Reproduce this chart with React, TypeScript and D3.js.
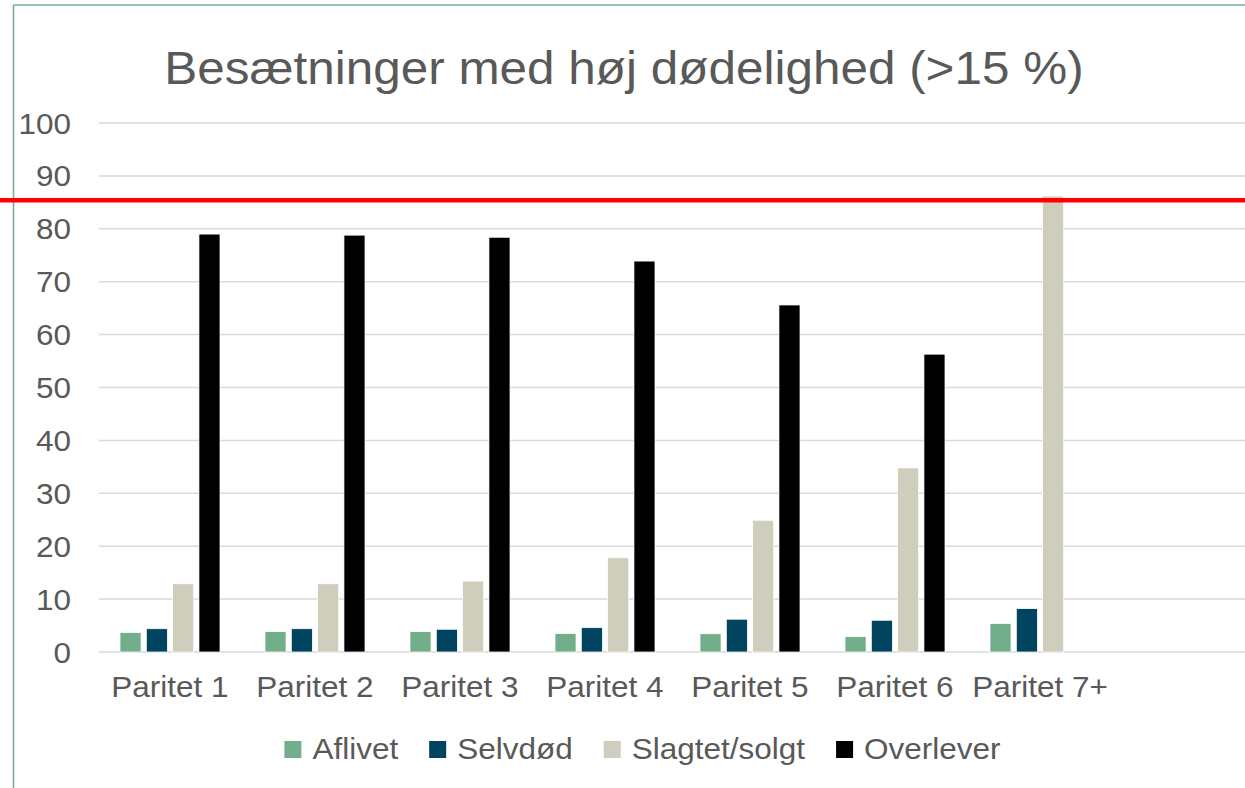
import React from "react";
import * as d3 from "d3";

const categories = ["Paritet 1", "Paritet 2", "Paritet 3", "Paritet 4", "Paritet 5", "Paritet 6", "Paritet 7+"];
const seriesNames = ["Aflivet", "Selvdød", "Slagtet/solgt", "Overlever"];
const aflivet = [3.7, 3.85, 3.85, 3.5, 3.45, 2.9, 5.4];
const selvdod = [4.4, 4.4, 4.3, 4.6, 6.2, 6.0, 8.2];
const slagtet = [12.9, 12.9, 13.4, 17.8, 24.9, 34.8, 86.2];
const overlever = [79.0, 78.8, 78.4, 73.9, 65.6, 56.3, 0];
const seriesColors = ["#72AE8A", "#00445F", "#CFCDBB", "#000000"];
const yTicks = [0, 10, 20, 30, 40, 50, 60, 70, 80, 90, 100];
const thresholdValue = 85.4;
const title = "Besætninger med høj dødelighed (>15 %)";

const W = 1245;
const H = 788;
const FONT = "'Liberation Sans', Arial, sans-serif";
const TEXT = "#595959";
const SX = 1.05;

function measure(text: string, size: number): number {
  if (typeof document === "undefined") return text.length * size * 0.5;
  const c = document.createElement("canvas");
  const ctx = c.getContext("2d");
  if (!ctx) return text.length * size * 0.5;
  ctx.font = `${size}px ${FONT}`;
  return ctx.measureText(text).width;
}

function T(props: { x: number; y: number; size: number; anchor?: string; sx?: number; children: React.ReactNode }) {
  const sx = props.sx ?? SX;
  return (
    <text
      transform={`translate(${props.x},${props.y}) scale(${sx},1)`}
      textAnchor={props.anchor ?? "start"}
      fontSize={props.size}
      fill={TEXT}
    >
      {props.children}
    </text>
  );
}

export default function App() {
  const seriesValues = [aflivet, selvdod, slagtet, overlever];
  const plotLeft = 97.5;
  const step = 145;
  const plotRight = 1262;
  const y = d3.scaleLinear().domain([0, 100]).range([652, 123]);
  const x = d3.scaleBand<string>().domain(categories).range([plotLeft, plotLeft + step * categories.length]).padding(0);
  const inner = d3.scaleBand<string>().domain(seriesNames).range([-50, 50]).paddingInner(0.2).paddingOuter(0);

  // legend layout
  const legFont = 30;
  const sq = 17;
  const textGap = 11;
  const itemGap = 31;
  const widths = seriesNames.map((s) => sq + textGap + measure(s, legFont) * SX);
  const total = d3.sum(widths) + itemGap * (seriesNames.length - 1);
  let cursor = 642.5 - total / 2;
  const legendItems = seriesNames.map((s, i) => {
    const pos = cursor;
    cursor += widths[i] + itemGap;
    return { name: s, x: pos, color: seriesColors[i] };
  });

  return (
    <svg
      width={W}
      height={H}
      style={{ position: "absolute", left: 0, top: 0, background: "#fff", fontFamily: FONT }}
    >
      <rect x={0} y={0} width={W} height={H} fill="#ffffff" />
      {/* chart border */}
      <line x1={13.5} y1={5} x2={13.5} y2={H} stroke="#72B08C" strokeWidth={1.5} />
      <line x1={13.5} y1={5} x2={W} y2={5} stroke="#72B08C" strokeWidth={1.5} />
      {/* title */}
      <T x={624} y={84} size={46} anchor="middle" sx={1.075}>
        {title}
      </T>
      {/* gridlines & y labels */}
      {yTicks.map((t) => (
        <g key={t}>
          <line x1={99} x2={plotRight} y1={y(t)} y2={y(t)} stroke="#D9D9D9" strokeWidth={1.5} />
          <T x={71} y={y(t) + 10.5} size={30} anchor="end">
            {t}
          </T>
        </g>
      ))}
      {/* bars */}
      {categories.map((c, ci) => {
        const cx = (x(c) as number) + x.bandwidth() / 2;
        return (
          <g key={c}>
            {seriesNames.map((s, si) => {
              const v = seriesValues[si][ci];
              if (!v) return null;
              return (
                <rect
                  key={s}
                  x={cx + (inner(s) as number)}
                  y={y(v)}
                  width={inner.bandwidth()}
                  height={y(0) - y(v)}
                  fill={seriesColors[si]}
                  stroke="#ffffff"
                  strokeWidth={0.75}
                />
              );
            })}
            <T x={cx} y={697} size={30} anchor="middle">
              {c}
            </T>
          </g>
        );
      })}
      {/* threshold line */}
      <line x1={0} x2={W} y1={y(thresholdValue)} y2={y(thresholdValue)} stroke="#FF0000" strokeWidth={4.5} />
      {/* legend */}
      {legendItems.map((it) => (
        <g key={it.name}>
          <rect x={it.x} y={741} width={sq} height={sq} fill={it.color} />
          <T x={it.x + sq + textGap} y={759} size={legFont}>
            {it.name}
          </T>
        </g>
      ))}
    </svg>
  );
}
